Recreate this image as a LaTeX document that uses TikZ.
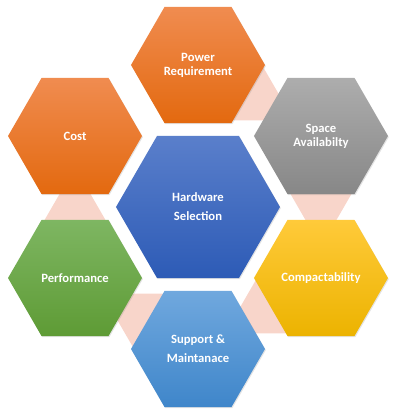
\documentclass[tikz,border=0pt]{standalone}
\usepackage{fontspec}
\setmainfont{Carlito}
\usepackage{xcolor}
\usepackage{tikz}
\usetikzlibrary{calc,shapes.geometric,backgrounds,shadows}
\definecolor{orTop}{HTML}{F08C50}
\definecolor{orBot}{HTML}{E3690F}
\definecolor{grTop}{HTML}{ADADAD}
\definecolor{grBot}{HTML}{878787}
\definecolor{blTop}{HTML}{5A7FCB}
\definecolor{blBot}{HTML}{2D5BB6}
\definecolor{yeTop}{HTML}{FFCA3A}
\definecolor{yeBot}{HTML}{ECB300}
\definecolor{gnTop}{HTML}{7EB662}
\definecolor{gnBot}{HTML}{5E9B35}
\definecolor{skTop}{HTML}{70A8DE}
\definecolor{skBot}{HTML}{3F86CA}
\definecolor{linkPink}{HTML}{F8D5CA}

\begin{document}
\begin{tikzpicture}[font=\fontsize{9}{10}\selectfont\bfseries,
  hexa/.style={regular polygon,regular polygon sides=6,minimum size=3.35cm,inner sep=0pt,outer sep=0pt,
    text=white,align=center,drop shadow={opacity=.22,shadow xshift=.6pt,shadow yshift=-.8pt}},
  wide/.style={font=\fontsize{9}{13.5}\selectfont\bfseries},
  link/.style={fill=linkPink,to path={($(\tikztostart)!0.218!(\tikztotarget)!1.152cm!90:(\tikztotarget)$)
    -- ($(\tikztostart)!0.711!(\tikztotarget)!0.142cm!90:(\tikztotarget)$)
    -- ($(\tikztostart)!0.711!(\tikztotarget)!0.142cm!-90:(\tikztotarget)$)
    -- ($(\tikztostart)!0.218!(\tikztotarget)!1.152cm!-90:(\tikztotarget)$) -- cycle}}]
\useasboundingbox (-4.95,-5.3) rectangle (5.075,5.175);
% centre
\node[hexa,wide,minimum size=4.1cm,top color=blTop,bottom color=blBot] (hw) at (0,0) {Hardware\\Selection};
% ring of six
\node[hexa,top color=orTop,bottom color=orBot] (pow)   at (90:3.55)   {Power\\Requirement};
\node[hexa,top color=grTop,bottom color=grBot] (space) at (30:3.55)   {Space\\Availabilty};
\node[hexa,top color=yeTop,bottom color=yeBot] (comp)  at (-30:3.55)  {Compactability};
\node[hexa,wide,top color=skTop,bottom color=skBot] (supp) at (-90:3.55) {Support \&\\Maintanace};
\node[hexa,top color=gnTop,bottom color=gnBot] (perf)  at (-150:3.55) {Performance};
\node[hexa,top color=orTop,bottom color=orBot] (cost)  at (150:3.55)  {Cost};
% links behind the ring
\begin{scope}[on background layer]
\fill[link] (pow) to (space);
\fill[link] (space) to (comp);
\fill[link] (comp) to (supp);
\fill[link] (supp) to (perf);
\fill[link] (perf) to (cost);
\end{scope}
\end{tikzpicture}
\end{document}
